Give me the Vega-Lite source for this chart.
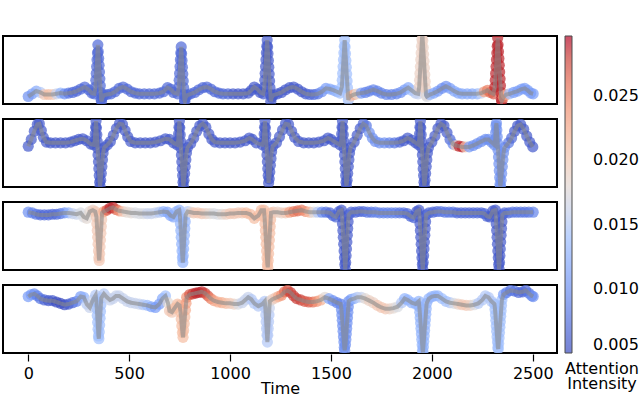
{
"$schema":"https://vega.github.io/schema/vega-lite/v6.json",
"padding":{"left":2,"top":35,"right":0,"bottom":0},
"autosize":{"type":"pad"},
"config":{"view":{"stroke":"black","strokeWidth":2},"font":"DejaVu Sans","axis":{"labelFont":"DejaVu Sans","titleFont":"DejaVu Sans"},"legend":{"labelFont":"DejaVu Sans","titleFont":"DejaVu Sans"}},
"data":{"values":[
{"p":1,"t":0,"y":0.11,"a":0.010},{"p":1,"t":20,"y":0.15,"a":0.011},{"p":1,"t":40,"y":0.19,"a":0.012},{"p":1,"t":60,"y":0.17,"a":0.015},{"p":1,"t":80,"y":0.14,"a":0.020},{"p":1,"t":100,"y":0.14,"a":0.021},{"p":1,"t":120,"y":0.14,"a":0.020},{"p":1,"t":140,"y":0.15,"a":0.016},{"p":1,"t":160,"y":0.16,"a":0.013},{"p":1,"t":180,"y":0.15,"a":0.010},{"p":1,"t":200,"y":0.16,"a":0.008},{"p":1,"t":220,"y":0.17,"a":0.007},{"p":1,"t":240,"y":0.19,"a":0.007},{"p":1,"t":260,"y":0.22,"a":0.007},{"p":1,"t":280,"y":0.25,"a":0.007},{"p":1,"t":300,"y":0.21,"a":0.007},{"p":1,"t":315,"y":0.16,"a":0.007},{"p":1,"t":328,"y":0.15,"a":0.007},
{"p":1,"t":333,"y":0.25,"a":0.007},{"p":1,"t":335,"y":0.35,"a":0.007},{"p":1,"t":337,"y":0.45,"a":0.007},{"p":1,"t":339,"y":0.55,"a":0.007},{"p":1,"t":341,"y":0.65,"a":0.007},{"p":1,"t":343,"y":0.75,"a":0.007},{"p":1,"t":345,"y":0.87,"a":0.007},{"p":1,"t":347,"y":0.77,"a":0.007},{"p":1,"t":349,"y":0.67,"a":0.007},{"p":1,"t":351,"y":0.57,"a":0.007},{"p":1,"t":353,"y":0.47,"a":0.007},{"p":1,"t":355,"y":0.37,"a":0.007},{"p":1,"t":357,"y":0.27,"a":0.007},{"p":1,"t":359,"y":0.17,"a":0.007},{"p":1,"t":361,"y":0.07,"a":0.007},{"p":1,"t":363,"y":0.04,"a":0.007},{"p":1,"t":368,"y":0.10,"a":0.007},{"p":1,"t":376,"y":0.13,"a":0.007},
{"p":1,"t":390,"y":0.14,"a":0.007},{"p":1,"t":410,"y":0.15,"a":0.007},{"p":1,"t":430,"y":0.18,"a":0.007},{"p":1,"t":450,"y":0.23,"a":0.007},{"p":1,"t":470,"y":0.25,"a":0.007},{"p":1,"t":490,"y":0.22,"a":0.007},{"p":1,"t":510,"y":0.18,"a":0.007},{"p":1,"t":530,"y":0.16,"a":0.007},{"p":1,"t":550,"y":0.15,"a":0.007},{"p":1,"t":575,"y":0.15,"a":0.007},{"p":1,"t":600,"y":0.15,"a":0.007},{"p":1,"t":625,"y":0.15,"a":0.007},{"p":1,"t":650,"y":0.16,"a":0.007},{"p":1,"t":670,"y":0.18,"a":0.007},{"p":1,"t":690,"y":0.24,"a":0.007},{"p":1,"t":705,"y":0.22,"a":0.007},{"p":1,"t":720,"y":0.17,"a":0.007},{"p":1,"t":740,"y":0.15,"a":0.007},
{"p":1,"t":746,"y":0.25,"a":0.007},{"p":1,"t":748,"y":0.35,"a":0.007},{"p":1,"t":750,"y":0.45,"a":0.007},{"p":1,"t":752,"y":0.55,"a":0.007},{"p":1,"t":754,"y":0.65,"a":0.007},{"p":1,"t":756,"y":0.75,"a":0.007},{"p":1,"t":758,"y":0.84,"a":0.007},{"p":1,"t":760,"y":0.74,"a":0.007},{"p":1,"t":762,"y":0.64,"a":0.007},{"p":1,"t":764,"y":0.54,"a":0.007},{"p":1,"t":766,"y":0.44,"a":0.007},{"p":1,"t":768,"y":0.34,"a":0.007},{"p":1,"t":770,"y":0.24,"a":0.007},{"p":1,"t":772,"y":0.14,"a":0.007},{"p":1,"t":774,"y":0.06,"a":0.007},{"p":1,"t":776,"y":0.04,"a":0.007},{"p":1,"t":781,"y":0.10,"a":0.007},{"p":1,"t":789,"y":0.13,"a":0.007},
{"p":1,"t":805,"y":0.15,"a":0.007},{"p":1,"t":825,"y":0.17,"a":0.007},{"p":1,"t":845,"y":0.21,"a":0.007},{"p":1,"t":865,"y":0.24,"a":0.007},{"p":1,"t":885,"y":0.25,"a":0.007},{"p":1,"t":905,"y":0.22,"a":0.007},{"p":1,"t":925,"y":0.18,"a":0.007},{"p":1,"t":945,"y":0.16,"a":0.007},{"p":1,"t":965,"y":0.15,"a":0.007},{"p":1,"t":990,"y":0.15,"a":0.007},{"p":1,"t":1015,"y":0.15,"a":0.006},{"p":1,"t":1040,"y":0.15,"a":0.006},{"p":1,"t":1065,"y":0.15,"a":0.006},{"p":1,"t":1090,"y":0.16,"a":0.006},{"p":1,"t":1105,"y":0.20,"a":0.006},{"p":1,"t":1120,"y":0.25,"a":0.006},{"p":1,"t":1135,"y":0.22,"a":0.006},{"p":1,"t":1150,"y":0.17,"a":0.006},{"p":1,"t":1165,"y":0.15,"a":0.006},
{"p":1,"t":1170,"y":0.25,"a":0.006},{"p":1,"t":1172,"y":0.35,"a":0.006},{"p":1,"t":1174,"y":0.45,"a":0.006},{"p":1,"t":1176,"y":0.55,"a":0.006},{"p":1,"t":1178,"y":0.65,"a":0.006},{"p":1,"t":1180,"y":0.75,"a":0.006},{"p":1,"t":1182,"y":0.85,"a":0.006},{"p":1,"t":1184,"y":0.94,"a":0.006},{"p":1,"t":1186,"y":0.84,"a":0.006},{"p":1,"t":1188,"y":0.74,"a":0.006},{"p":1,"t":1190,"y":0.64,"a":0.006},{"p":1,"t":1192,"y":0.54,"a":0.006},{"p":1,"t":1194,"y":0.44,"a":0.006},{"p":1,"t":1196,"y":0.34,"a":0.006},{"p":1,"t":1198,"y":0.24,"a":0.006},{"p":1,"t":1200,"y":0.14,"a":0.006},{"p":1,"t":1202,"y":0.04,"a":0.006},{"p":1,"t":1207,"y":0.10,"a":0.006},{"p":1,"t":1215,"y":0.13,"a":0.006},
{"p":1,"t":1235,"y":0.15,"a":0.006},{"p":1,"t":1255,"y":0.17,"a":0.006},{"p":1,"t":1275,"y":0.21,"a":0.006},{"p":1,"t":1295,"y":0.24,"a":0.006},{"p":1,"t":1315,"y":0.25,"a":0.006},{"p":1,"t":1335,"y":0.22,"a":0.006},{"p":1,"t":1355,"y":0.18,"a":0.006},{"p":1,"t":1375,"y":0.15,"a":0.006},{"p":1,"t":1395,"y":0.14,"a":0.007},{"p":1,"t":1415,"y":0.14,"a":0.007},{"p":1,"t":1435,"y":0.15,"a":0.008},{"p":1,"t":1455,"y":0.18,"a":0.010},{"p":1,"t":1475,"y":0.23,"a":0.011},{"p":1,"t":1495,"y":0.22,"a":0.012},{"p":1,"t":1515,"y":0.20,"a":0.012},{"p":1,"t":1530,"y":0.18,"a":0.013},{"p":1,"t":1545,"y":0.16,"a":0.014},
{"p":1,"t":1554,"y":0.25,"a":0.014},{"p":1,"t":1556,"y":0.35,"a":0.014},{"p":1,"t":1558,"y":0.45,"a":0.014},{"p":1,"t":1560,"y":0.55,"a":0.014},{"p":1,"t":1562,"y":0.65,"a":0.014},{"p":1,"t":1564,"y":0.75,"a":0.014},{"p":1,"t":1566,"y":0.85,"a":0.014},{"p":1,"t":1568,"y":0.94,"a":0.014},{"p":1,"t":1570,"y":0.84,"a":0.014},{"p":1,"t":1572,"y":0.74,"a":0.014},{"p":1,"t":1574,"y":0.64,"a":0.014},{"p":1,"t":1576,"y":0.54,"a":0.014},{"p":1,"t":1578,"y":0.44,"a":0.014},{"p":1,"t":1580,"y":0.34,"a":0.014},{"p":1,"t":1582,"y":0.24,"a":0.014},{"p":1,"t":1584,"y":0.14,"a":0.014},{"p":1,"t":1586,"y":0.06,"a":0.014},{"p":1,"t":1591,"y":0.10,"a":0.016},
{"p":1,"t":1600,"y":0.12,"a":0.020},{"p":1,"t":1615,"y":0.14,"a":0.022},{"p":1,"t":1630,"y":0.15,"a":0.018},{"p":1,"t":1650,"y":0.16,"a":0.011},{"p":1,"t":1670,"y":0.17,"a":0.009},{"p":1,"t":1690,"y":0.19,"a":0.009},{"p":1,"t":1710,"y":0.21,"a":0.009},{"p":1,"t":1730,"y":0.19,"a":0.009},{"p":1,"t":1750,"y":0.16,"a":0.009},{"p":1,"t":1775,"y":0.14,"a":0.009},{"p":1,"t":1800,"y":0.14,"a":0.009},{"p":1,"t":1825,"y":0.15,"a":0.009},{"p":1,"t":1845,"y":0.17,"a":0.010},{"p":1,"t":1865,"y":0.21,"a":0.011},{"p":1,"t":1883,"y":0.24,"a":0.012},{"p":1,"t":1900,"y":0.20,"a":0.014},{"p":1,"t":1918,"y":0.16,"a":0.015},{"p":1,"t":1932,"y":0.15,"a":0.016},
{"p":1,"t":1937,"y":0.25,"a":0.019},{"p":1,"t":1939,"y":0.35,"a":0.019},{"p":1,"t":1941,"y":0.45,"a":0.019},{"p":1,"t":1943,"y":0.55,"a":0.019},{"p":1,"t":1945,"y":0.65,"a":0.019},{"p":1,"t":1947,"y":0.75,"a":0.019},{"p":1,"t":1949,"y":0.85,"a":0.019},{"p":1,"t":1951,"y":0.95,"a":0.019},{"p":1,"t":1953,"y":1.03,"a":0.019},{"p":1,"t":1955,"y":0.93,"a":0.019},{"p":1,"t":1957,"y":0.83,"a":0.019},{"p":1,"t":1959,"y":0.73,"a":0.019},{"p":1,"t":1961,"y":0.63,"a":0.019},{"p":1,"t":1963,"y":0.53,"a":0.019},{"p":1,"t":1965,"y":0.43,"a":0.019},{"p":1,"t":1967,"y":0.33,"a":0.019},{"p":1,"t":1969,"y":0.23,"a":0.019},{"p":1,"t":1971,"y":0.13,"a":0.019},{"p":1,"t":1975,"y":0.11,"a":0.017},
{"p":1,"t":1990,"y":0.14,"a":0.013},{"p":1,"t":2010,"y":0.16,"a":0.012},{"p":1,"t":2030,"y":0.19,"a":0.011},{"p":1,"t":2050,"y":0.23,"a":0.010},{"p":1,"t":2070,"y":0.26,"a":0.010},{"p":1,"t":2090,"y":0.23,"a":0.011},{"p":1,"t":2110,"y":0.19,"a":0.012},{"p":1,"t":2130,"y":0.16,"a":0.012},{"p":1,"t":2150,"y":0.15,"a":0.012},{"p":1,"t":2175,"y":0.15,"a":0.012},{"p":1,"t":2200,"y":0.15,"a":0.012},{"p":1,"t":2225,"y":0.15,"a":0.013},{"p":1,"t":2245,"y":0.16,"a":0.016},{"p":1,"t":2260,"y":0.18,"a":0.023},{"p":1,"t":2275,"y":0.20,"a":0.025},{"p":1,"t":2290,"y":0.17,"a":0.026},{"p":1,"t":2305,"y":0.15,"a":0.027},
{"p":1,"t":2312,"y":0.25,"a":0.029},{"p":1,"t":2314,"y":0.35,"a":0.029},{"p":1,"t":2316,"y":0.45,"a":0.029},{"p":1,"t":2318,"y":0.55,"a":0.029},{"p":1,"t":2320,"y":0.65,"a":0.029},{"p":1,"t":2322,"y":0.75,"a":0.029},{"p":1,"t":2324,"y":0.85,"a":0.029},{"p":1,"t":2326,"y":0.97,"a":0.029},{"p":1,"t":2328,"y":0.87,"a":0.029},{"p":1,"t":2330,"y":0.77,"a":0.029},{"p":1,"t":2332,"y":0.67,"a":0.029},{"p":1,"t":2334,"y":0.57,"a":0.029},{"p":1,"t":2336,"y":0.47,"a":0.029},{"p":1,"t":2338,"y":0.37,"a":0.029},{"p":1,"t":2340,"y":0.27,"a":0.029},{"p":1,"t":2342,"y":0.17,"a":0.029},{"p":1,"t":2344,"y":0.07,"a":0.029},{"p":1,"t":2346,"y":0.04,"a":0.029},
{"p":1,"t":2355,"y":0.10,"a":0.024},{"p":1,"t":2368,"y":0.14,"a":0.022},{"p":1,"t":2385,"y":0.15,"a":0.014},{"p":1,"t":2405,"y":0.17,"a":0.011},{"p":1,"t":2425,"y":0.19,"a":0.011},{"p":1,"t":2445,"y":0.22,"a":0.011},{"p":1,"t":2460,"y":0.23,"a":0.011},{"p":1,"t":2475,"y":0.20,"a":0.011},{"p":1,"t":2490,"y":0.16,"a":0.011},{"p":1,"t":2502,"y":0.15,"a":0.011},

{"p":2,"t":0,"y":0.60,"a":0.006},{"p":2,"t":15,"y":0.70,"a":0.006},{"p":2,"t":30,"y":0.82,"a":0.006},{"p":2,"t":45,"y":0.92,"a":0.006},{"p":2,"t":55,"y":0.93,"a":0.006},{"p":2,"t":65,"y":0.83,"a":0.006},{"p":2,"t":75,"y":0.73,"a":0.006},{"p":2,"t":90,"y":0.66,"a":0.006},{"p":2,"t":110,"y":0.65,"a":0.006},{"p":2,"t":135,"y":0.65,"a":0.006},{"p":2,"t":160,"y":0.65,"a":0.006},{"p":2,"t":185,"y":0.65,"a":0.006},{"p":2,"t":210,"y":0.66,"a":0.006},{"p":2,"t":230,"y":0.68,"a":0.006},{"p":2,"t":250,"y":0.70,"a":0.006},{"p":2,"t":270,"y":0.71,"a":0.006},{"p":2,"t":290,"y":0.68,"a":0.006},{"p":2,"t":310,"y":0.63,"a":0.006},{"p":2,"t":325,"y":0.62,"a":0.006},
{"p":2,"t":330,"y":0.68,"a":0.006},{"p":2,"t":332,"y":0.78,"a":0.006},{"p":2,"t":334,"y":0.88,"a":0.006},{"p":2,"t":336,"y":0.97,"a":0.006},{"p":2,"t":338,"y":0.87,"a":0.006},{"p":2,"t":340,"y":0.77,"a":0.006},{"p":2,"t":342,"y":0.67,"a":0.006},{"p":2,"t":344,"y":0.57,"a":0.006},{"p":2,"t":346,"y":0.47,"a":0.006},{"p":2,"t":348,"y":0.37,"a":0.006},{"p":2,"t":350,"y":0.27,"a":0.006},{"p":2,"t":352,"y":0.17,"a":0.006},{"p":2,"t":354,"y":0.07,"a":0.006},{"p":2,"t":356,"y":0.01,"a":0.006},{"p":2,"t":359,"y":0.10,"a":0.006},{"p":2,"t":362,"y":0.20,"a":0.006},{"p":2,"t":365,"y":0.30,"a":0.006},{"p":2,"t":368,"y":0.40,"a":0.006},{"p":2,"t":371,"y":0.50,"a":0.006},{"p":2,"t":376,"y":0.58,"a":0.006},
{"p":2,"t":392,"y":0.62,"a":0.006},{"p":2,"t":407,"y":0.67,"a":0.006},{"p":2,"t":422,"y":0.76,"a":0.006},{"p":2,"t":437,"y":0.86,"a":0.006},{"p":2,"t":452,"y":0.93,"a":0.006},{"p":2,"t":467,"y":0.92,"a":0.006},{"p":2,"t":480,"y":0.83,"a":0.006},{"p":2,"t":493,"y":0.74,"a":0.006},{"p":2,"t":508,"y":0.67,"a":0.006},{"p":2,"t":530,"y":0.65,"a":0.006},{"p":2,"t":555,"y":0.65,"a":0.006},{"p":2,"t":580,"y":0.65,"a":0.006},{"p":2,"t":605,"y":0.65,"a":0.006},{"p":2,"t":630,"y":0.66,"a":0.006},{"p":2,"t":655,"y":0.68,"a":0.006},{"p":2,"t":680,"y":0.71,"a":0.006},{"p":2,"t":700,"y":0.70,"a":0.006},{"p":2,"t":720,"y":0.65,"a":0.006},{"p":2,"t":738,"y":0.62,"a":0.006},
{"p":2,"t":743,"y":0.68,"a":0.006},{"p":2,"t":745,"y":0.78,"a":0.006},{"p":2,"t":747,"y":0.88,"a":0.006},{"p":2,"t":749,"y":0.97,"a":0.006},{"p":2,"t":751,"y":0.87,"a":0.006},{"p":2,"t":753,"y":0.77,"a":0.006},{"p":2,"t":755,"y":0.67,"a":0.006},{"p":2,"t":757,"y":0.57,"a":0.006},{"p":2,"t":759,"y":0.47,"a":0.006},{"p":2,"t":761,"y":0.37,"a":0.006},{"p":2,"t":763,"y":0.27,"a":0.006},{"p":2,"t":765,"y":0.17,"a":0.006},{"p":2,"t":767,"y":0.07,"a":0.006},{"p":2,"t":769,"y":0.01,"a":0.006},{"p":2,"t":772,"y":0.10,"a":0.006},{"p":2,"t":775,"y":0.20,"a":0.006},{"p":2,"t":778,"y":0.30,"a":0.006},{"p":2,"t":781,"y":0.40,"a":0.006},{"p":2,"t":784,"y":0.50,"a":0.006},{"p":2,"t":789,"y":0.58,"a":0.006},
{"p":2,"t":805,"y":0.64,"a":0.006},{"p":2,"t":820,"y":0.72,"a":0.006},{"p":2,"t":835,"y":0.82,"a":0.006},{"p":2,"t":850,"y":0.90,"a":0.006},{"p":2,"t":865,"y":0.93,"a":0.006},{"p":2,"t":880,"y":0.88,"a":0.006},{"p":2,"t":895,"y":0.78,"a":0.006},{"p":2,"t":910,"y":0.70,"a":0.006},{"p":2,"t":925,"y":0.66,"a":0.006},{"p":2,"t":950,"y":0.65,"a":0.006},{"p":2,"t":975,"y":0.65,"a":0.006},{"p":2,"t":1000,"y":0.65,"a":0.006},{"p":2,"t":1025,"y":0.65,"a":0.006},{"p":2,"t":1050,"y":0.66,"a":0.006},{"p":2,"t":1075,"y":0.68,"a":0.006},{"p":2,"t":1095,"y":0.72,"a":0.006},{"p":2,"t":1110,"y":0.70,"a":0.006},{"p":2,"t":1130,"y":0.65,"a":0.006},{"p":2,"t":1160,"y":0.62,"a":0.006},
{"p":2,"t":1167,"y":0.68,"a":0.006},{"p":2,"t":1169,"y":0.78,"a":0.006},{"p":2,"t":1171,"y":0.88,"a":0.006},{"p":2,"t":1173,"y":0.97,"a":0.006},{"p":2,"t":1175,"y":0.87,"a":0.006},{"p":2,"t":1177,"y":0.77,"a":0.006},{"p":2,"t":1179,"y":0.67,"a":0.006},{"p":2,"t":1181,"y":0.57,"a":0.006},{"p":2,"t":1183,"y":0.47,"a":0.006},{"p":2,"t":1185,"y":0.37,"a":0.006},{"p":2,"t":1187,"y":0.27,"a":0.006},{"p":2,"t":1189,"y":0.17,"a":0.006},{"p":2,"t":1191,"y":0.06,"a":0.006},{"p":2,"t":1194,"y":0.12,"a":0.006},{"p":2,"t":1197,"y":0.22,"a":0.006},{"p":2,"t":1200,"y":0.32,"a":0.006},{"p":2,"t":1203,"y":0.42,"a":0.006},{"p":2,"t":1206,"y":0.52,"a":0.006},{"p":2,"t":1212,"y":0.60,"a":0.006},
{"p":2,"t":1230,"y":0.65,"a":0.006},{"p":2,"t":1245,"y":0.74,"a":0.006},{"p":2,"t":1260,"y":0.84,"a":0.006},{"p":2,"t":1275,"y":0.93,"a":0.006},{"p":2,"t":1290,"y":0.92,"a":0.006},{"p":2,"t":1305,"y":0.82,"a":0.006},{"p":2,"t":1320,"y":0.73,"a":0.006},{"p":2,"t":1340,"y":0.67,"a":0.006},{"p":2,"t":1365,"y":0.65,"a":0.006},{"p":2,"t":1390,"y":0.65,"a":0.006},{"p":2,"t":1415,"y":0.65,"a":0.006},{"p":2,"t":1440,"y":0.66,"a":0.006},{"p":2,"t":1465,"y":0.68,"a":0.006},{"p":2,"t":1485,"y":0.72,"a":0.006},{"p":2,"t":1500,"y":0.70,"a":0.006},{"p":2,"t":1520,"y":0.66,"a":0.006},{"p":2,"t":1545,"y":0.62,"a":0.006},
{"p":2,"t":1551,"y":0.68,"a":0.006},{"p":2,"t":1553,"y":0.78,"a":0.006},{"p":2,"t":1555,"y":0.88,"a":0.006},{"p":2,"t":1557,"y":0.97,"a":0.006},{"p":2,"t":1559,"y":0.87,"a":0.006},{"p":2,"t":1561,"y":0.77,"a":0.006},{"p":2,"t":1563,"y":0.67,"a":0.006},{"p":2,"t":1565,"y":0.57,"a":0.006},{"p":2,"t":1567,"y":0.47,"a":0.006},{"p":2,"t":1569,"y":0.37,"a":0.006},{"p":2,"t":1571,"y":0.27,"a":0.006},{"p":2,"t":1573,"y":0.17,"a":0.006},{"p":2,"t":1575,"y":0.07,"a":0.006},{"p":2,"t":1577,"y":0.02,"a":0.006},{"p":2,"t":1580,"y":0.10,"a":0.006},{"p":2,"t":1583,"y":0.20,"a":0.006},{"p":2,"t":1586,"y":0.30,"a":0.006},{"p":2,"t":1589,"y":0.40,"a":0.006},{"p":2,"t":1592,"y":0.50,"a":0.006},{"p":2,"t":1597,"y":0.58,"a":0.006},
{"p":2,"t":1615,"y":0.66,"a":0.006},{"p":2,"t":1630,"y":0.76,"a":0.006},{"p":2,"t":1645,"y":0.86,"a":0.006},{"p":2,"t":1660,"y":0.93,"a":0.007},{"p":2,"t":1675,"y":0.90,"a":0.008},{"p":2,"t":1690,"y":0.80,"a":0.010},{"p":2,"t":1705,"y":0.72,"a":0.010},{"p":2,"t":1720,"y":0.67,"a":0.010},{"p":2,"t":1740,"y":0.65,"a":0.010},{"p":2,"t":1765,"y":0.65,"a":0.010},{"p":2,"t":1790,"y":0.65,"a":0.009},{"p":2,"t":1815,"y":0.65,"a":0.008},{"p":2,"t":1840,"y":0.66,"a":0.007},{"p":2,"t":1860,"y":0.68,"a":0.006},{"p":2,"t":1880,"y":0.72,"a":0.006},{"p":2,"t":1900,"y":0.69,"a":0.006},{"p":2,"t":1920,"y":0.65,"a":0.006},{"p":2,"t":1935,"y":0.62,"a":0.006},
{"p":2,"t":1937,"y":0.68,"a":0.006},{"p":2,"t":1939,"y":0.78,"a":0.006},{"p":2,"t":1941,"y":0.88,"a":0.006},{"p":2,"t":1943,"y":0.97,"a":0.006},{"p":2,"t":1945,"y":0.87,"a":0.006},{"p":2,"t":1947,"y":0.77,"a":0.006},{"p":2,"t":1949,"y":0.67,"a":0.006},{"p":2,"t":1951,"y":0.57,"a":0.006},{"p":2,"t":1953,"y":0.47,"a":0.006},{"p":2,"t":1955,"y":0.37,"a":0.006},{"p":2,"t":1957,"y":0.27,"a":0.006},{"p":2,"t":1959,"y":0.17,"a":0.006},{"p":2,"t":1961,"y":0.07,"a":0.006},{"p":2,"t":1963,"y":0.02,"a":0.006},{"p":2,"t":1966,"y":0.10,"a":0.006},{"p":2,"t":1969,"y":0.20,"a":0.006},{"p":2,"t":1972,"y":0.30,"a":0.006},{"p":2,"t":1975,"y":0.40,"a":0.006},{"p":2,"t":1978,"y":0.50,"a":0.006},{"p":2,"t":1983,"y":0.58,"a":0.006},
{"p":2,"t":2000,"y":0.66,"a":0.006},{"p":2,"t":2015,"y":0.75,"a":0.006},{"p":2,"t":2030,"y":0.86,"a":0.006},{"p":2,"t":2045,"y":0.93,"a":0.006},{"p":2,"t":2060,"y":0.90,"a":0.006},{"p":2,"t":2075,"y":0.80,"a":0.006},{"p":2,"t":2090,"y":0.70,"a":0.007},{"p":2,"t":2105,"y":0.63,"a":0.009},{"p":2,"t":2120,"y":0.61,"a":0.020},{"p":2,"t":2135,"y":0.60,"a":0.029},{"p":2,"t":2150,"y":0.59,"a":0.029},{"p":2,"t":2165,"y":0.59,"a":0.020},{"p":2,"t":2185,"y":0.59,"a":0.011},{"p":2,"t":2205,"y":0.61,"a":0.010},{"p":2,"t":2225,"y":0.64,"a":0.010},{"p":2,"t":2245,"y":0.67,"a":0.010},{"p":2,"t":2265,"y":0.70,"a":0.010},{"p":2,"t":2280,"y":0.70,"a":0.010},{"p":2,"t":2295,"y":0.66,"a":0.010},{"p":2,"t":2310,"y":0.62,"a":0.010},
{"p":2,"t":2314,"y":0.70,"a":0.010},{"p":2,"t":2316,"y":0.80,"a":0.010},{"p":2,"t":2318,"y":0.90,"a":0.010},{"p":2,"t":2320,"y":0.94,"a":0.010},{"p":2,"t":2322,"y":0.84,"a":0.010},{"p":2,"t":2324,"y":0.74,"a":0.010},{"p":2,"t":2326,"y":0.64,"a":0.010},{"p":2,"t":2328,"y":0.54,"a":0.010},{"p":2,"t":2330,"y":0.44,"a":0.010},{"p":2,"t":2332,"y":0.34,"a":0.010},{"p":2,"t":2334,"y":0.24,"a":0.010},{"p":2,"t":2336,"y":0.14,"a":0.010},{"p":2,"t":2338,"y":0.04,"a":0.010},{"p":2,"t":2340,"y":0.01,"a":0.010},{"p":2,"t":2343,"y":0.10,"a":0.010},{"p":2,"t":2346,"y":0.20,"a":0.010},{"p":2,"t":2349,"y":0.30,"a":0.010},{"p":2,"t":2352,"y":0.40,"a":0.010},{"p":2,"t":2355,"y":0.50,"a":0.010},{"p":2,"t":2360,"y":0.58,"a":0.010},
{"p":2,"t":2380,"y":0.65,"a":0.008},{"p":2,"t":2395,"y":0.72,"a":0.007},{"p":2,"t":2410,"y":0.82,"a":0.006},{"p":2,"t":2425,"y":0.90,"a":0.006},{"p":2,"t":2440,"y":0.92,"a":0.006},{"p":2,"t":2455,"y":0.85,"a":0.006},{"p":2,"t":2470,"y":0.75,"a":0.006},{"p":2,"t":2485,"y":0.66,"a":0.006},{"p":2,"t":2500,"y":0.59,"a":0.006},

{"p":3,"t":0,"y":0.85,"a":0.010},{"p":3,"t":20,"y":0.84,"a":0.009},{"p":3,"t":40,"y":0.82,"a":0.008},{"p":3,"t":60,"y":0.81,"a":0.007},{"p":3,"t":80,"y":0.81,"a":0.007},{"p":3,"t":100,"y":0.81,"a":0.007},{"p":3,"t":120,"y":0.82,"a":0.007},{"p":3,"t":140,"y":0.82,"a":0.007},{"p":3,"t":160,"y":0.83,"a":0.008},{"p":3,"t":180,"y":0.84,"a":0.010},{"p":3,"t":200,"y":0.84,"a":0.013},{"p":3,"t":220,"y":0.83,"a":0.016},{"p":3,"t":240,"y":0.82,"a":0.016},{"p":3,"t":260,"y":0.84,"a":0.017},{"p":3,"t":275,"y":0.78,"a":0.017},{"p":3,"t":290,"y":0.76,"a":0.018},{"p":3,"t":305,"y":0.86,"a":0.018},{"p":3,"t":320,"y":0.88,"a":0.019},{"p":3,"t":332,"y":0.86,"a":0.020},
{"p":3,"t":338,"y":0.78,"a":0.020},{"p":3,"t":340,"y":0.68,"a":0.020},{"p":3,"t":342,"y":0.58,"a":0.020},{"p":3,"t":344,"y":0.48,"a":0.020},{"p":3,"t":346,"y":0.38,"a":0.020},{"p":3,"t":348,"y":0.28,"a":0.020},{"p":3,"t":350,"y":0.18,"a":0.020},{"p":3,"t":352,"y":0.14,"a":0.020},{"p":3,"t":354,"y":0.24,"a":0.020},{"p":3,"t":356,"y":0.34,"a":0.020},{"p":3,"t":358,"y":0.44,"a":0.020},{"p":3,"t":360,"y":0.54,"a":0.020},{"p":3,"t":362,"y":0.64,"a":0.020},{"p":3,"t":364,"y":0.74,"a":0.020},{"p":3,"t":366,"y":0.84,"a":0.020},
{"p":3,"t":375,"y":0.86,"a":0.022},{"p":3,"t":390,"y":0.88,"a":0.027},{"p":3,"t":405,"y":0.91,"a":0.029},{"p":3,"t":420,"y":0.92,"a":0.029},{"p":3,"t":435,"y":0.89,"a":0.027},{"p":3,"t":450,"y":0.87,"a":0.024},{"p":3,"t":470,"y":0.86,"a":0.020},{"p":3,"t":490,"y":0.85,"a":0.018},{"p":3,"t":510,"y":0.84,"a":0.018},{"p":3,"t":530,"y":0.84,"a":0.017},{"p":3,"t":550,"y":0.83,"a":0.017},{"p":3,"t":570,"y":0.83,"a":0.017},{"p":3,"t":590,"y":0.83,"a":0.016},{"p":3,"t":610,"y":0.83,"a":0.016},{"p":3,"t":630,"y":0.84,"a":0.016},{"p":3,"t":650,"y":0.85,"a":0.015},{"p":3,"t":670,"y":0.86,"a":0.013},{"p":3,"t":690,"y":0.85,"a":0.012},{"p":3,"t":705,"y":0.80,"a":0.012},{"p":3,"t":720,"y":0.78,"a":0.012},{"p":3,"t":735,"y":0.86,"a":0.013},{"p":3,"t":748,"y":0.88,"a":0.013},
{"p":3,"t":752,"y":0.78,"a":0.013},{"p":3,"t":754,"y":0.68,"a":0.013},{"p":3,"t":756,"y":0.58,"a":0.013},{"p":3,"t":758,"y":0.48,"a":0.013},{"p":3,"t":760,"y":0.38,"a":0.013},{"p":3,"t":762,"y":0.28,"a":0.013},{"p":3,"t":764,"y":0.18,"a":0.013},{"p":3,"t":766,"y":0.11,"a":0.013},{"p":3,"t":768,"y":0.21,"a":0.013},{"p":3,"t":770,"y":0.31,"a":0.013},{"p":3,"t":772,"y":0.41,"a":0.013},{"p":3,"t":774,"y":0.51,"a":0.013},{"p":3,"t":776,"y":0.61,"a":0.013},{"p":3,"t":778,"y":0.71,"a":0.013},{"p":3,"t":780,"y":0.81,"a":0.013},
{"p":3,"t":790,"y":0.86,"a":0.015},{"p":3,"t":805,"y":0.85,"a":0.018},{"p":3,"t":820,"y":0.84,"a":0.020},{"p":3,"t":840,"y":0.84,"a":0.020},{"p":3,"t":860,"y":0.83,"a":0.020},{"p":3,"t":880,"y":0.83,"a":0.019},{"p":3,"t":900,"y":0.83,"a":0.018},{"p":3,"t":920,"y":0.83,"a":0.017},{"p":3,"t":940,"y":0.82,"a":0.017},{"p":3,"t":960,"y":0.82,"a":0.018},{"p":3,"t":980,"y":0.82,"a":0.019},{"p":3,"t":1000,"y":0.83,"a":0.020},{"p":3,"t":1020,"y":0.83,"a":0.020},{"p":3,"t":1040,"y":0.84,"a":0.020},{"p":3,"t":1060,"y":0.84,"a":0.020},{"p":3,"t":1080,"y":0.84,"a":0.021},{"p":3,"t":1100,"y":0.82,"a":0.021},{"p":3,"t":1120,"y":0.76,"a":0.021},{"p":3,"t":1140,"y":0.80,"a":0.021},{"p":3,"t":1155,"y":0.88,"a":0.021},{"p":3,"t":1168,"y":0.88,"a":0.021},
{"p":3,"t":1171,"y":0.78,"a":0.021},{"p":3,"t":1173,"y":0.68,"a":0.021},{"p":3,"t":1175,"y":0.58,"a":0.021},{"p":3,"t":1177,"y":0.48,"a":0.021},{"p":3,"t":1179,"y":0.38,"a":0.021},{"p":3,"t":1181,"y":0.28,"a":0.021},{"p":3,"t":1183,"y":0.18,"a":0.021},{"p":3,"t":1185,"y":0.08,"a":0.021},{"p":3,"t":1187,"y":0.04,"a":0.021},{"p":3,"t":1189,"y":0.14,"a":0.021},{"p":3,"t":1191,"y":0.24,"a":0.021},{"p":3,"t":1193,"y":0.34,"a":0.021},{"p":3,"t":1195,"y":0.44,"a":0.021},{"p":3,"t":1197,"y":0.54,"a":0.021},{"p":3,"t":1199,"y":0.64,"a":0.021},{"p":3,"t":1201,"y":0.74,"a":0.021},{"p":3,"t":1203,"y":0.84,"a":0.021},
{"p":3,"t":1215,"y":0.85,"a":0.020},{"p":3,"t":1235,"y":0.85,"a":0.019},{"p":3,"t":1255,"y":0.84,"a":0.019},{"p":3,"t":1275,"y":0.84,"a":0.020},{"p":3,"t":1295,"y":0.85,"a":0.023},{"p":3,"t":1315,"y":0.86,"a":0.025},{"p":3,"t":1335,"y":0.87,"a":0.026},{"p":3,"t":1355,"y":0.88,"a":0.025},{"p":3,"t":1375,"y":0.86,"a":0.024},{"p":3,"t":1395,"y":0.85,"a":0.021},{"p":3,"t":1415,"y":0.85,"a":0.017},{"p":3,"t":1435,"y":0.85,"a":0.015},{"p":3,"t":1455,"y":0.85,"a":0.010},{"p":3,"t":1475,"y":0.85,"a":0.008},{"p":3,"t":1495,"y":0.84,"a":0.007},{"p":3,"t":1510,"y":0.80,"a":0.007},{"p":3,"t":1525,"y":0.78,"a":0.007},{"p":3,"t":1540,"y":0.86,"a":0.007},{"p":3,"t":1552,"y":0.88,"a":0.006},
{"p":3,"t":1555,"y":0.78,"a":0.006},{"p":3,"t":1557,"y":0.68,"a":0.006},{"p":3,"t":1559,"y":0.58,"a":0.006},{"p":3,"t":1561,"y":0.48,"a":0.006},{"p":3,"t":1563,"y":0.38,"a":0.006},{"p":3,"t":1565,"y":0.28,"a":0.006},{"p":3,"t":1567,"y":0.18,"a":0.006},{"p":3,"t":1569,"y":0.08,"a":0.006},{"p":3,"t":1571,"y":0.01,"a":0.006},{"p":3,"t":1573,"y":0.11,"a":0.006},{"p":3,"t":1575,"y":0.21,"a":0.006},{"p":3,"t":1577,"y":0.31,"a":0.006},{"p":3,"t":1579,"y":0.41,"a":0.006},{"p":3,"t":1581,"y":0.51,"a":0.006},{"p":3,"t":1583,"y":0.61,"a":0.006},{"p":3,"t":1585,"y":0.71,"a":0.006},{"p":3,"t":1587,"y":0.81,"a":0.006},
{"p":3,"t":1600,"y":0.85,"a":0.007},{"p":3,"t":1620,"y":0.85,"a":0.007},{"p":3,"t":1640,"y":0.86,"a":0.007},{"p":3,"t":1660,"y":0.86,"a":0.007},{"p":3,"t":1680,"y":0.85,"a":0.008},{"p":3,"t":1700,"y":0.85,"a":0.008},{"p":3,"t":1720,"y":0.85,"a":0.009},{"p":3,"t":1740,"y":0.84,"a":0.009},{"p":3,"t":1760,"y":0.84,"a":0.009},{"p":3,"t":1780,"y":0.84,"a":0.009},{"p":3,"t":1800,"y":0.84,"a":0.009},{"p":3,"t":1820,"y":0.84,"a":0.009},{"p":3,"t":1840,"y":0.84,"a":0.008},{"p":3,"t":1860,"y":0.84,"a":0.008},{"p":3,"t":1878,"y":0.83,"a":0.007},{"p":3,"t":1895,"y":0.79,"a":0.007},{"p":3,"t":1910,"y":0.77,"a":0.007},{"p":3,"t":1925,"y":0.86,"a":0.006},{"p":3,"t":1936,"y":0.88,"a":0.006},
{"p":3,"t":1939,"y":0.78,"a":0.006},{"p":3,"t":1941,"y":0.68,"a":0.006},{"p":3,"t":1943,"y":0.58,"a":0.006},{"p":3,"t":1945,"y":0.48,"a":0.006},{"p":3,"t":1947,"y":0.38,"a":0.006},{"p":3,"t":1949,"y":0.28,"a":0.006},{"p":3,"t":1951,"y":0.18,"a":0.006},{"p":3,"t":1953,"y":0.08,"a":0.006},{"p":3,"t":1955,"y":0.01,"a":0.006},{"p":3,"t":1957,"y":0.11,"a":0.006},{"p":3,"t":1959,"y":0.21,"a":0.006},{"p":3,"t":1961,"y":0.31,"a":0.006},{"p":3,"t":1963,"y":0.41,"a":0.006},{"p":3,"t":1965,"y":0.51,"a":0.006},{"p":3,"t":1967,"y":0.61,"a":0.006},{"p":3,"t":1969,"y":0.71,"a":0.006},{"p":3,"t":1971,"y":0.81,"a":0.006},
{"p":3,"t":1985,"y":0.84,"a":0.007},{"p":3,"t":2005,"y":0.85,"a":0.007},{"p":3,"t":2025,"y":0.86,"a":0.007},{"p":3,"t":2045,"y":0.86,"a":0.008},{"p":3,"t":2065,"y":0.85,"a":0.008},{"p":3,"t":2085,"y":0.85,"a":0.008},{"p":3,"t":2105,"y":0.85,"a":0.008},{"p":3,"t":2125,"y":0.84,"a":0.007},{"p":3,"t":2145,"y":0.84,"a":0.007},{"p":3,"t":2165,"y":0.84,"a":0.007},{"p":3,"t":2185,"y":0.84,"a":0.007},{"p":3,"t":2205,"y":0.84,"a":0.007},{"p":3,"t":2225,"y":0.84,"a":0.007},{"p":3,"t":2245,"y":0.84,"a":0.007},{"p":3,"t":2260,"y":0.83,"a":0.007},{"p":3,"t":2273,"y":0.79,"a":0.007},{"p":3,"t":2287,"y":0.78,"a":0.006},{"p":3,"t":2302,"y":0.87,"a":0.006},{"p":3,"t":2315,"y":0.88,"a":0.006},
{"p":3,"t":2317,"y":0.78,"a":0.006},{"p":3,"t":2319,"y":0.68,"a":0.006},{"p":3,"t":2321,"y":0.58,"a":0.006},{"p":3,"t":2323,"y":0.48,"a":0.006},{"p":3,"t":2325,"y":0.38,"a":0.006},{"p":3,"t":2327,"y":0.28,"a":0.006},{"p":3,"t":2329,"y":0.18,"a":0.006},{"p":3,"t":2331,"y":0.08,"a":0.006},{"p":3,"t":2333,"y":0.01,"a":0.006},{"p":3,"t":2335,"y":0.11,"a":0.006},{"p":3,"t":2337,"y":0.21,"a":0.006},{"p":3,"t":2339,"y":0.31,"a":0.006},{"p":3,"t":2341,"y":0.41,"a":0.006},{"p":3,"t":2343,"y":0.51,"a":0.006},{"p":3,"t":2345,"y":0.61,"a":0.006},{"p":3,"t":2347,"y":0.71,"a":0.006},{"p":3,"t":2349,"y":0.81,"a":0.006},
{"p":3,"t":2360,"y":0.84,"a":0.007},{"p":3,"t":2380,"y":0.84,"a":0.007},{"p":3,"t":2400,"y":0.85,"a":0.008},{"p":3,"t":2420,"y":0.85,"a":0.008},{"p":3,"t":2440,"y":0.85,"a":0.008},{"p":3,"t":2460,"y":0.85,"a":0.008},{"p":3,"t":2480,"y":0.85,"a":0.008},{"p":3,"t":2502,"y":0.85,"a":0.009},

{"p":4,"t":0,"y":0.83,"a":0.011},{"p":4,"t":15,"y":0.86,"a":0.011},{"p":4,"t":30,"y":0.87,"a":0.010},{"p":4,"t":45,"y":0.84,"a":0.009},{"p":4,"t":60,"y":0.80,"a":0.008},{"p":4,"t":80,"y":0.78,"a":0.007},{"p":4,"t":100,"y":0.77,"a":0.006},{"p":4,"t":120,"y":0.77,"a":0.006},{"p":4,"t":140,"y":0.75,"a":0.005},{"p":4,"t":160,"y":0.73,"a":0.005},{"p":4,"t":180,"y":0.71,"a":0.005},{"p":4,"t":200,"y":0.72,"a":0.006},{"p":4,"t":220,"y":0.74,"a":0.007},{"p":4,"t":240,"y":0.76,"a":0.009},{"p":4,"t":260,"y":0.83,"a":0.011},{"p":4,"t":275,"y":0.82,"a":0.013},{"p":4,"t":290,"y":0.72,"a":0.015},{"p":4,"t":305,"y":0.67,"a":0.016},{"p":4,"t":320,"y":0.78,"a":0.016},{"p":4,"t":334,"y":0.85,"a":0.015},
{"p":4,"t":338,"y":0.75,"a":0.014},{"p":4,"t":340,"y":0.65,"a":0.014},{"p":4,"t":342,"y":0.55,"a":0.014},{"p":4,"t":344,"y":0.45,"a":0.014},{"p":4,"t":346,"y":0.35,"a":0.014},{"p":4,"t":348,"y":0.25,"a":0.014},{"p":4,"t":350,"y":0.21,"a":0.014},{"p":4,"t":352,"y":0.31,"a":0.014},{"p":4,"t":354,"y":0.41,"a":0.014},{"p":4,"t":356,"y":0.51,"a":0.014},{"p":4,"t":358,"y":0.61,"a":0.014},{"p":4,"t":360,"y":0.71,"a":0.014},{"p":4,"t":362,"y":0.81,"a":0.014},
{"p":4,"t":375,"y":0.87,"a":0.015},{"p":4,"t":390,"y":0.82,"a":0.016},{"p":4,"t":405,"y":0.78,"a":0.016},{"p":4,"t":420,"y":0.80,"a":0.016},{"p":4,"t":435,"y":0.84,"a":0.016},{"p":4,"t":450,"y":0.84,"a":0.016},{"p":4,"t":470,"y":0.80,"a":0.016},{"p":4,"t":490,"y":0.76,"a":0.016},{"p":4,"t":510,"y":0.74,"a":0.016},{"p":4,"t":530,"y":0.73,"a":0.016},{"p":4,"t":550,"y":0.72,"a":0.016},{"p":4,"t":570,"y":0.71,"a":0.015},{"p":4,"t":590,"y":0.70,"a":0.014},{"p":4,"t":610,"y":0.68,"a":0.012},{"p":4,"t":630,"y":0.67,"a":0.011},{"p":4,"t":650,"y":0.72,"a":0.011},{"p":4,"t":665,"y":0.80,"a":0.012},{"p":4,"t":680,"y":0.84,"a":0.014},{"p":4,"t":692,"y":0.74,"a":0.018},{"p":4,"t":700,"y":0.62,"a":0.020},
{"p":4,"t":712,"y":0.60,"a":0.020},{"p":4,"t":725,"y":0.66,"a":0.021},{"p":4,"t":740,"y":0.72,"a":0.021},{"p":4,"t":750,"y":0.70,"a":0.021},{"p":4,"t":755,"y":0.60,"a":0.021},{"p":4,"t":758,"y":0.50,"a":0.021},{"p":4,"t":761,"y":0.40,"a":0.021},{"p":4,"t":764,"y":0.30,"a":0.021},{"p":4,"t":767,"y":0.23,"a":0.021},{"p":4,"t":770,"y":0.33,"a":0.021},{"p":4,"t":773,"y":0.43,"a":0.021},{"p":4,"t":776,"y":0.53,"a":0.021},{"p":4,"t":779,"y":0.63,"a":0.022},{"p":4,"t":782,"y":0.73,"a":0.023},{"p":4,"t":785,"y":0.82,"a":0.024},
{"p":4,"t":800,"y":0.86,"a":0.027},{"p":4,"t":815,"y":0.87,"a":0.028},{"p":4,"t":830,"y":0.88,"a":0.029},{"p":4,"t":845,"y":0.89,"a":0.029},{"p":4,"t":860,"y":0.90,"a":0.029},{"p":4,"t":875,"y":0.88,"a":0.028},{"p":4,"t":890,"y":0.84,"a":0.027},{"p":4,"t":905,"y":0.80,"a":0.025},{"p":4,"t":920,"y":0.77,"a":0.023},{"p":4,"t":940,"y":0.75,"a":0.022},{"p":4,"t":960,"y":0.74,"a":0.022},{"p":4,"t":980,"y":0.73,"a":0.021},{"p":4,"t":1000,"y":0.73,"a":0.020},{"p":4,"t":1020,"y":0.72,"a":0.019},{"p":4,"t":1040,"y":0.72,"a":0.017},{"p":4,"t":1060,"y":0.74,"a":0.016},{"p":4,"t":1075,"y":0.78,"a":0.016},{"p":4,"t":1090,"y":0.82,"a":0.016},{"p":4,"t":1105,"y":0.79,"a":0.015},{"p":4,"t":1120,"y":0.73,"a":0.015},{"p":4,"t":1140,"y":0.69,"a":0.015},{"p":4,"t":1160,"y":0.72,"a":0.015},{"p":4,"t":1172,"y":0.76,"a":0.015},
{"p":4,"t":1175,"y":0.66,"a":0.015},{"p":4,"t":1177,"y":0.56,"a":0.015},{"p":4,"t":1179,"y":0.46,"a":0.015},{"p":4,"t":1181,"y":0.36,"a":0.015},{"p":4,"t":1183,"y":0.26,"a":0.015},{"p":4,"t":1185,"y":0.16,"a":0.015},{"p":4,"t":1187,"y":0.26,"a":0.015},{"p":4,"t":1189,"y":0.36,"a":0.015},{"p":4,"t":1191,"y":0.46,"a":0.015},{"p":4,"t":1193,"y":0.56,"a":0.015},{"p":4,"t":1195,"y":0.66,"a":0.016},{"p":4,"t":1197,"y":0.76,"a":0.017},
{"p":4,"t":1210,"y":0.79,"a":0.019},{"p":4,"t":1225,"y":0.81,"a":0.020},{"p":4,"t":1240,"y":0.83,"a":0.022},{"p":4,"t":1255,"y":0.85,"a":0.024},{"p":4,"t":1270,"y":0.90,"a":0.026},{"p":4,"t":1285,"y":0.92,"a":0.027},{"p":4,"t":1300,"y":0.89,"a":0.028},{"p":4,"t":1315,"y":0.84,"a":0.028},{"p":4,"t":1330,"y":0.80,"a":0.028},{"p":4,"t":1350,"y":0.78,"a":0.028},{"p":4,"t":1370,"y":0.76,"a":0.027},{"p":4,"t":1390,"y":0.75,"a":0.027},{"p":4,"t":1410,"y":0.75,"a":0.026},{"p":4,"t":1430,"y":0.76,"a":0.024},{"p":4,"t":1450,"y":0.78,"a":0.022},{"p":4,"t":1470,"y":0.82,"a":0.018},{"p":4,"t":1490,"y":0.80,"a":0.012},{"p":4,"t":1510,"y":0.77,"a":0.010},{"p":4,"t":1530,"y":0.74,"a":0.009},{"p":4,"t":1548,"y":0.72,"a":0.009},
{"p":4,"t":1552,"y":0.64,"a":0.010},{"p":4,"t":1554,"y":0.56,"a":0.010},{"p":4,"t":1556,"y":0.48,"a":0.010},{"p":4,"t":1558,"y":0.40,"a":0.010},{"p":4,"t":1560,"y":0.32,"a":0.010},{"p":4,"t":1562,"y":0.24,"a":0.010},{"p":4,"t":1564,"y":0.16,"a":0.010},{"p":4,"t":1566,"y":0.08,"a":0.010},{"p":4,"t":1568,"y":0.04,"a":0.010},{"p":4,"t":1572,"y":0.12,"a":0.010},{"p":4,"t":1574,"y":0.20,"a":0.010},{"p":4,"t":1576,"y":0.28,"a":0.010},{"p":4,"t":1578,"y":0.36,"a":0.010},{"p":4,"t":1580,"y":0.44,"a":0.010},{"p":4,"t":1582,"y":0.52,"a":0.010},{"p":4,"t":1584,"y":0.60,"a":0.010},{"p":4,"t":1586,"y":0.68,"a":0.010},{"p":4,"t":1588,"y":0.76,"a":0.010},
{"p":4,"t":1600,"y":0.79,"a":0.011},{"p":4,"t":1615,"y":0.80,"a":0.013},{"p":4,"t":1630,"y":0.82,"a":0.015},{"p":4,"t":1650,"y":0.82,"a":0.016},{"p":4,"t":1670,"y":0.80,"a":0.018},{"p":4,"t":1690,"y":0.77,"a":0.019},{"p":4,"t":1710,"y":0.74,"a":0.019},{"p":4,"t":1730,"y":0.70,"a":0.020},{"p":4,"t":1750,"y":0.67,"a":0.020},{"p":4,"t":1770,"y":0.65,"a":0.020},{"p":4,"t":1790,"y":0.65,"a":0.019},{"p":4,"t":1810,"y":0.66,"a":0.018},{"p":4,"t":1830,"y":0.68,"a":0.017},{"p":4,"t":1850,"y":0.74,"a":0.015},{"p":4,"t":1865,"y":0.80,"a":0.013},{"p":4,"t":1880,"y":0.78,"a":0.013},{"p":4,"t":1900,"y":0.74,"a":0.013},{"p":4,"t":1920,"y":0.72,"a":0.013},{"p":4,"t":1935,"y":0.76,"a":0.013},
{"p":4,"t":1938,"y":0.68,"a":0.013},{"p":4,"t":1940,"y":0.60,"a":0.013},{"p":4,"t":1942,"y":0.52,"a":0.013},{"p":4,"t":1944,"y":0.44,"a":0.013},{"p":4,"t":1946,"y":0.36,"a":0.013},{"p":4,"t":1948,"y":0.28,"a":0.013},{"p":4,"t":1950,"y":0.20,"a":0.013},{"p":4,"t":1952,"y":0.12,"a":0.013},{"p":4,"t":1954,"y":0.04,"a":0.013},{"p":4,"t":1956,"y":0.01,"a":0.013},{"p":4,"t":1958,"y":0.09,"a":0.013},{"p":4,"t":1960,"y":0.17,"a":0.013},{"p":4,"t":1962,"y":0.25,"a":0.013},{"p":4,"t":1964,"y":0.33,"a":0.013},{"p":4,"t":1966,"y":0.41,"a":0.013},{"p":4,"t":1968,"y":0.49,"a":0.013},{"p":4,"t":1970,"y":0.57,"a":0.013},{"p":4,"t":1972,"y":0.65,"a":0.013},{"p":4,"t":1974,"y":0.73,"a":0.013},
{"p":4,"t":1985,"y":0.80,"a":0.013},{"p":4,"t":2000,"y":0.83,"a":0.013},{"p":4,"t":2015,"y":0.84,"a":0.013},{"p":4,"t":2030,"y":0.84,"a":0.013},{"p":4,"t":2050,"y":0.80,"a":0.014},{"p":4,"t":2070,"y":0.76,"a":0.014},{"p":4,"t":2090,"y":0.74,"a":0.015},{"p":4,"t":2110,"y":0.73,"a":0.017},{"p":4,"t":2130,"y":0.72,"a":0.019},{"p":4,"t":2150,"y":0.71,"a":0.020},{"p":4,"t":2170,"y":0.70,"a":0.020},{"p":4,"t":2190,"y":0.70,"a":0.019},{"p":4,"t":2210,"y":0.71,"a":0.017},{"p":4,"t":2230,"y":0.73,"a":0.015},{"p":4,"t":2250,"y":0.78,"a":0.015},{"p":4,"t":2265,"y":0.84,"a":0.015},{"p":4,"t":2280,"y":0.82,"a":0.015},{"p":4,"t":2295,"y":0.76,"a":0.015},{"p":4,"t":2310,"y":0.72,"a":0.014},
{"p":4,"t":2313,"y":0.64,"a":0.014},{"p":4,"t":2315,"y":0.56,"a":0.014},{"p":4,"t":2317,"y":0.48,"a":0.014},{"p":4,"t":2319,"y":0.40,"a":0.014},{"p":4,"t":2321,"y":0.32,"a":0.014},{"p":4,"t":2323,"y":0.24,"a":0.014},{"p":4,"t":2325,"y":0.16,"a":0.014},{"p":4,"t":2327,"y":0.08,"a":0.014},{"p":4,"t":2329,"y":0.06,"a":0.014},{"p":4,"t":2331,"y":0.14,"a":0.014},{"p":4,"t":2333,"y":0.22,"a":0.014},{"p":4,"t":2335,"y":0.30,"a":0.014},{"p":4,"t":2337,"y":0.38,"a":0.014},{"p":4,"t":2339,"y":0.46,"a":0.014},{"p":4,"t":2341,"y":0.54,"a":0.014},{"p":4,"t":2343,"y":0.62,"a":0.014},{"p":4,"t":2345,"y":0.70,"a":0.014},{"p":4,"t":2347,"y":0.78,"a":0.014},
{"p":4,"t":2355,"y":0.86,"a":0.011},{"p":4,"t":2370,"y":0.89,"a":0.009},{"p":4,"t":2390,"y":0.92,"a":0.008},{"p":4,"t":2410,"y":0.91,"a":0.008},{"p":4,"t":2430,"y":0.89,"a":0.007},{"p":4,"t":2450,"y":0.90,"a":0.007},{"p":4,"t":2465,"y":0.92,"a":0.007},{"p":4,"t":2480,"y":0.88,"a":0.008},{"p":4,"t":2495,"y":0.84,"a":0.009},{"p":4,"t":2502,"y":0.83,"a":0.010}
]},
"facet":{"row":{"field":"p","type":"ordinal","header":{"labels":false,"title":null,"labelPadding":0,"titlePadding":0}}},
"spacing":{"row":13},
"spec":{
"width":554,"height":68,
"encoding":{
"x":{"field":"t","type":"quantitative","scale":{"domain":[-125,2620],"nice":false,"zero":false},"axis":{"values":[0,500,1000,1500,2000,2500],"format":"d","title":"Time","domain":false,"grid":false,"tickColor":"black","tickSize":7,"tickWidth":1.2,"labelColor":"black","labelFontSize":16,"labelPadding":4,"titleColor":"black","titleFontSize":16,"titleFontWeight":"normal","titlePadding":-1}},
"y":{"field":"y","type":"quantitative","scale":{"domain":[0,1],"nice":false,"zero":false},"axis":null}
},
"layer":[
{"mark":{"type":"point","filled":true,"size":125,"opacity":0.7,"clip":true},
"encoding":{"color":{"field":"a","type":"quantitative",
"scale":{"domain":[0.005,0.0080875,0.011175,0.0142625,0.01735,0.0204375,0.023525,0.0266125,0.0297],"range":["#3b4cc0","#5977e3","#7b9ff9","#a3c2fe","#dddddd","#f5c4ac","#f49a7b","#de614d","#b40426"]},
"legend":{"title":["Attention","Intensity"],"titleOrient":"bottom","titleAnchor":"middle","titleAlign":"center","titleFontSize":16,"titleFontWeight":"normal","titleColor":"black","titleLineHeight":15,"titlePadding":7,"values":[0.005,0.01,0.015,0.02,0.025],"format":".3f","labelBaseline":"middle","gradientLength":317,"gradientThickness":7,"gradientStrokeColor":"black","gradientStrokeWidth":1,"offset":7,"labelOffset":21,"labelFontSize":16,"labelColor":"black","labelOverlap":false}}}},
{"mark":{"type":"line","color":"#8a8a8a","strokeWidth":4,"opacity":0.6,"clip":true},"encoding":{}}
]
}
}
